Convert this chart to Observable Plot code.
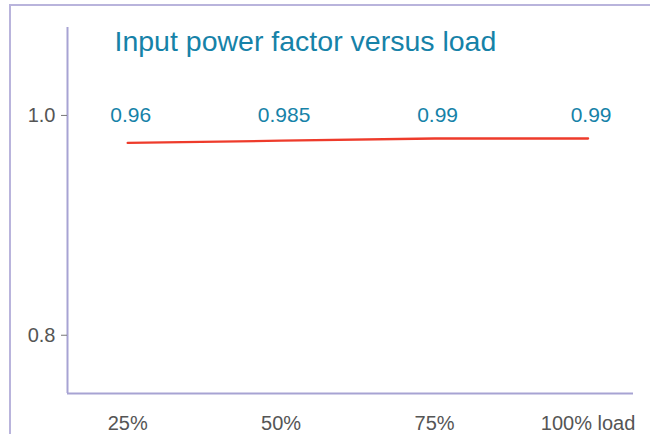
<!DOCTYPE html>
<html>
<head>
<meta charset="utf-8">
<script src="https://cdn.jsdelivr.net/npm/d3@7"></script>
<script src="https://cdn.jsdelivr.net/npm/@observablehq/plot@0.6"></script>
<style>
  html, body { margin: 0; padding: 0; background: #ffffff; }
  #wrap { position: relative; width: 650px; height: 434px; overflow: hidden; }
  #page-border { position: absolute; left: 9px; top: 4px; width: 660px; height: 450px;
    border-top: 2px solid #b9b4dc; border-left: 2px solid #b9b4dc; box-sizing: border-box; }
  #chart { position: absolute; left: 0; top: 0; }
</style>
</head>
<body>
<div id="wrap">
  <div id="page-border"></div>
  <div id="chart"></div>
</div>
<script>
// ---- data ----
const title = "Input power factor versus load";
const loads = [25, 50, 75, 100];
const powerFactor = [0.975, 0.977, 0.979, 0.979];   // line as drawn
const valueLabels = ["0.96", "0.985", "0.99", "0.99"]; // printed values
const labelLevel = 1.0;
const xTicks = [25, 50, 75, 100];
const xTickLabels = ["25%", "50%", "75%", "100% load"];
const yTicks = [0.8, 1.0];
const yTickLabels = ["0.8", "1.0"];

// ---- build ----
const rows = loads.map((l, i) => ({load: l, pf: powerFactor[i], label: valueLabels[i]}));
const xDomain = [15.2, 107.4];
const yDomain = [0.747, 1.08];
const axisColor = "#a7a3d3";
const teal = "#1682a8";
const gray = "#555555";
const font = "'Liberation Sans', Arial, Helvetica, sans-serif";

const chart = Plot.plot({
  width: 650,
  height: 434,
  marginTop: 27,
  marginBottom: 41,
  marginLeft: 67,
  marginRight: 17,
  style: {fontFamily: font, background: "transparent", overflow: "visible"},
  x: {domain: xDomain},
  y: {domain: yDomain},
  marks: [
    Plot.ruleX([xDomain[0]], {stroke: axisColor, strokeWidth: 2}),
    Plot.ruleY([yDomain[0]], {stroke: axisColor, strokeWidth: 2}),
    Plot.axisY({
      ticks: yTicks,
      tickFormat: (d) => yTickLabels[yTicks.indexOf(d)],
      tickSize: 6,
      tickPadding: 6,
      fontSize: 20,
      color: gray,
      stroke: "#777",
      label: null
    }),
    Plot.axisX({
      ticks: xTicks,
      tickFormat: (d) => xTickLabels[xTicks.indexOf(d)],
      tickSize: 0,
      tickPadding: 22,
      fontSize: 20,
      color: gray,
      label: null
    }),
    Plot.line(rows, {x: "load", y: "pf", stroke: "#ee3b2b", strokeWidth: 2.3}),
    Plot.text(rows, {x: "load", y: () => labelLevel, text: "label", fill: teal, fontSize: 21, dx: 3}),
    Plot.text([title], {
      text: (d) => d,
      frameAnchor: "top-left",
      dx: 47,
      dy: 3,
      lineAnchor: "top",
      textAnchor: "start",
      fill: teal,
      fontSize: 28.5
    })
  ]
});
document.getElementById("chart").appendChild(chart);
</script>
</body>
</html>
